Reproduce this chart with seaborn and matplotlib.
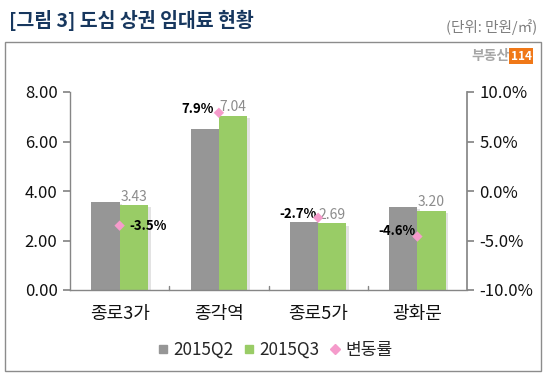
import matplotlib
matplotlib.use("Agg")
import matplotlib.pyplot as plt
import matplotlib.patheffects as pe
from matplotlib.patches import Rectangle
from matplotlib.lines import Line2D
import seaborn as sns
import pandas as pd

categories = ["종로3가", "종각역", "종로5가", "광화문"]
q2 = [3.55, 6.52, 2.76, 3.35]
q3 = [3.43, 7.04, 2.69, 3.20]
change = [-3.5, 7.9, -2.7, -4.6]
series = ["2015Q2", "2015Q3"]
left_ticks = [0, 2, 4, 6, 8]
right_ticks = [-10, -5, 0, 5, 10]

sns.set_theme(style="white")
plt.rcParams["font.family"] = ["Noto Sans CJK KR", "DejaVu Sans"]

df = pd.DataFrame({
    "cat": categories * 2,
    "val": q2 + q3,
    "series": [series[0]] * 4 + [series[1]] * 4,
})

gray = "#969696"
green = "#99CC66"
pink = "#F59BCB"
axc = "#868686"

fig = plt.figure(figsize=(5.49, 3.88), dpi=100)
ax = fig.add_axes([70/549, 1-290/388, (467-70)/549, (290-92)/388])
sns.barplot(data=df, x="cat", y="val", hue="series", order=categories,
            hue_order=series, palette=[gray, green], width=0.57,
            saturation=1, ax=ax, legend=False, edgecolor="none")
for p in ax.patches:
    p.set_path_effects([pe.SimplePatchShadow(offset=(2, -1.5), alpha=0.15, shadow_rgbFace="#444444"), pe.Normal()])

ax.set_ylim(0, 8)
ax.set_xlim(-0.5, 3.5)
ax.set_yticks(left_ticks)
ax.set_yticklabels([f"{v:.2f}" for v in left_ticks])
ax.set_xlabel("")
ax.set_ylabel("")
for s in ["top", "right"]:
    ax.spines[s].set_visible(False)
for s in ["left", "bottom"]:
    ax.spines[s].set_color(axc)
    ax.spines[s].set_linewidth(1)
ax.tick_params(axis="y", left=True, length=5, color=axc, labelsize=12, pad=4, labelcolor="#111111")
ax.tick_params(axis="x", bottom=False, labelsize=13, pad=5, labelcolor="#111111")
for b in [0.5, 1.5, 2.5]:
    ax.plot([b, b], [0, 0.18], color=axc, lw=1, clip_on=False)

# Q3 labels
green_bars = ax.patches[4:8]
for p, v in zip(green_bars, q3):
    ax.annotate(f"{v:.2f}", (p.get_x() + p.get_width()/2, p.get_height()),
                xytext=(0, 1), textcoords="offset points", ha="center", va="bottom",
                fontsize=10, color="#8C8C8C")

ax2 = ax.twinx()
ax2.set_position(ax.get_position())
sns.scatterplot(x=categories, y=change, marker="D", s=28, color=pink,
                edgecolor="none", ax=ax2, zorder=5)
ax2.set_ylim(-10, 10)
ax2.set_xlim(-0.5, 3.5)
ax2.set_yticks(right_ticks)
ax2.set_yticklabels([f"{v:.1f}%" for v in right_ticks])
for s in ["top", "left", "bottom"]:
    ax2.spines[s].set_visible(False)
ax2.spines["right"].set_color(axc)
ax2.tick_params(axis="y", right=True, length=5, color=axc, labelsize=12, pad=4, labelcolor="#111111")
ax2.grid(False)
ax.grid(False)

offsets = [(7, 0, "left"), (-4, 3, "right"), (-1, 3, "right"), (-1, 4, "right")]
for i, (c, (dx, dy, ha)) in enumerate(zip(change, offsets)):
    ax2.annotate(f"{c:.1f}%", (i, c), xytext=(dx, dy), textcoords="offset points",
                 ha=ha, va="center", fontsize=9.5, fontweight="bold", color="black")

# Legend
handles = [
    Line2D([], [], marker="s", linestyle="none", markersize=6, color=gray),
    Line2D([], [], marker="s", linestyle="none", markersize=6, color=green),
    Line2D([], [], marker="D", linestyle="none", markersize=5, color=pink),
]
fig.legend(handles, series + ["변동률"], loc="center", bbox_to_anchor=(0.5, 1-350/388),
           ncol=3, frameon=False, fontsize=12.3, handlelength=0.8, handletextpad=0.2,
           columnspacing=0.5)

# Title and frame
fig.text(9/549, 1-20/388, "[그림 3] 도심 상권 임대료 현황", fontsize=14, fontweight="bold",
         color="#17375E", va="center", ha="left")
fig.text(537/549, 1-27/388, "(단위: 만원/㎡)", fontsize=10.5, color="#7F7F7F", va="center", ha="right")
fig.patches.append(Rectangle((5/549, 1-371/388), (541-5)/549, (371-42)/388,
                             transform=fig.transFigure, fill=False, edgecolor="#8C8C8C", lw=1))
fig.text(510/549, 1-56/388, "부동산", fontsize=10, fontweight="bold", color="#A6A6A6", va="center", ha="right")
fig.text(521/549, 1-56/388, "114", fontsize=8.5, fontweight="bold", color="white", va="center", ha="center",
         bbox=dict(boxstyle="square,pad=0.15", fc="#F07818", ec="none"))

fig.savefig("out.png", dpi=100)
